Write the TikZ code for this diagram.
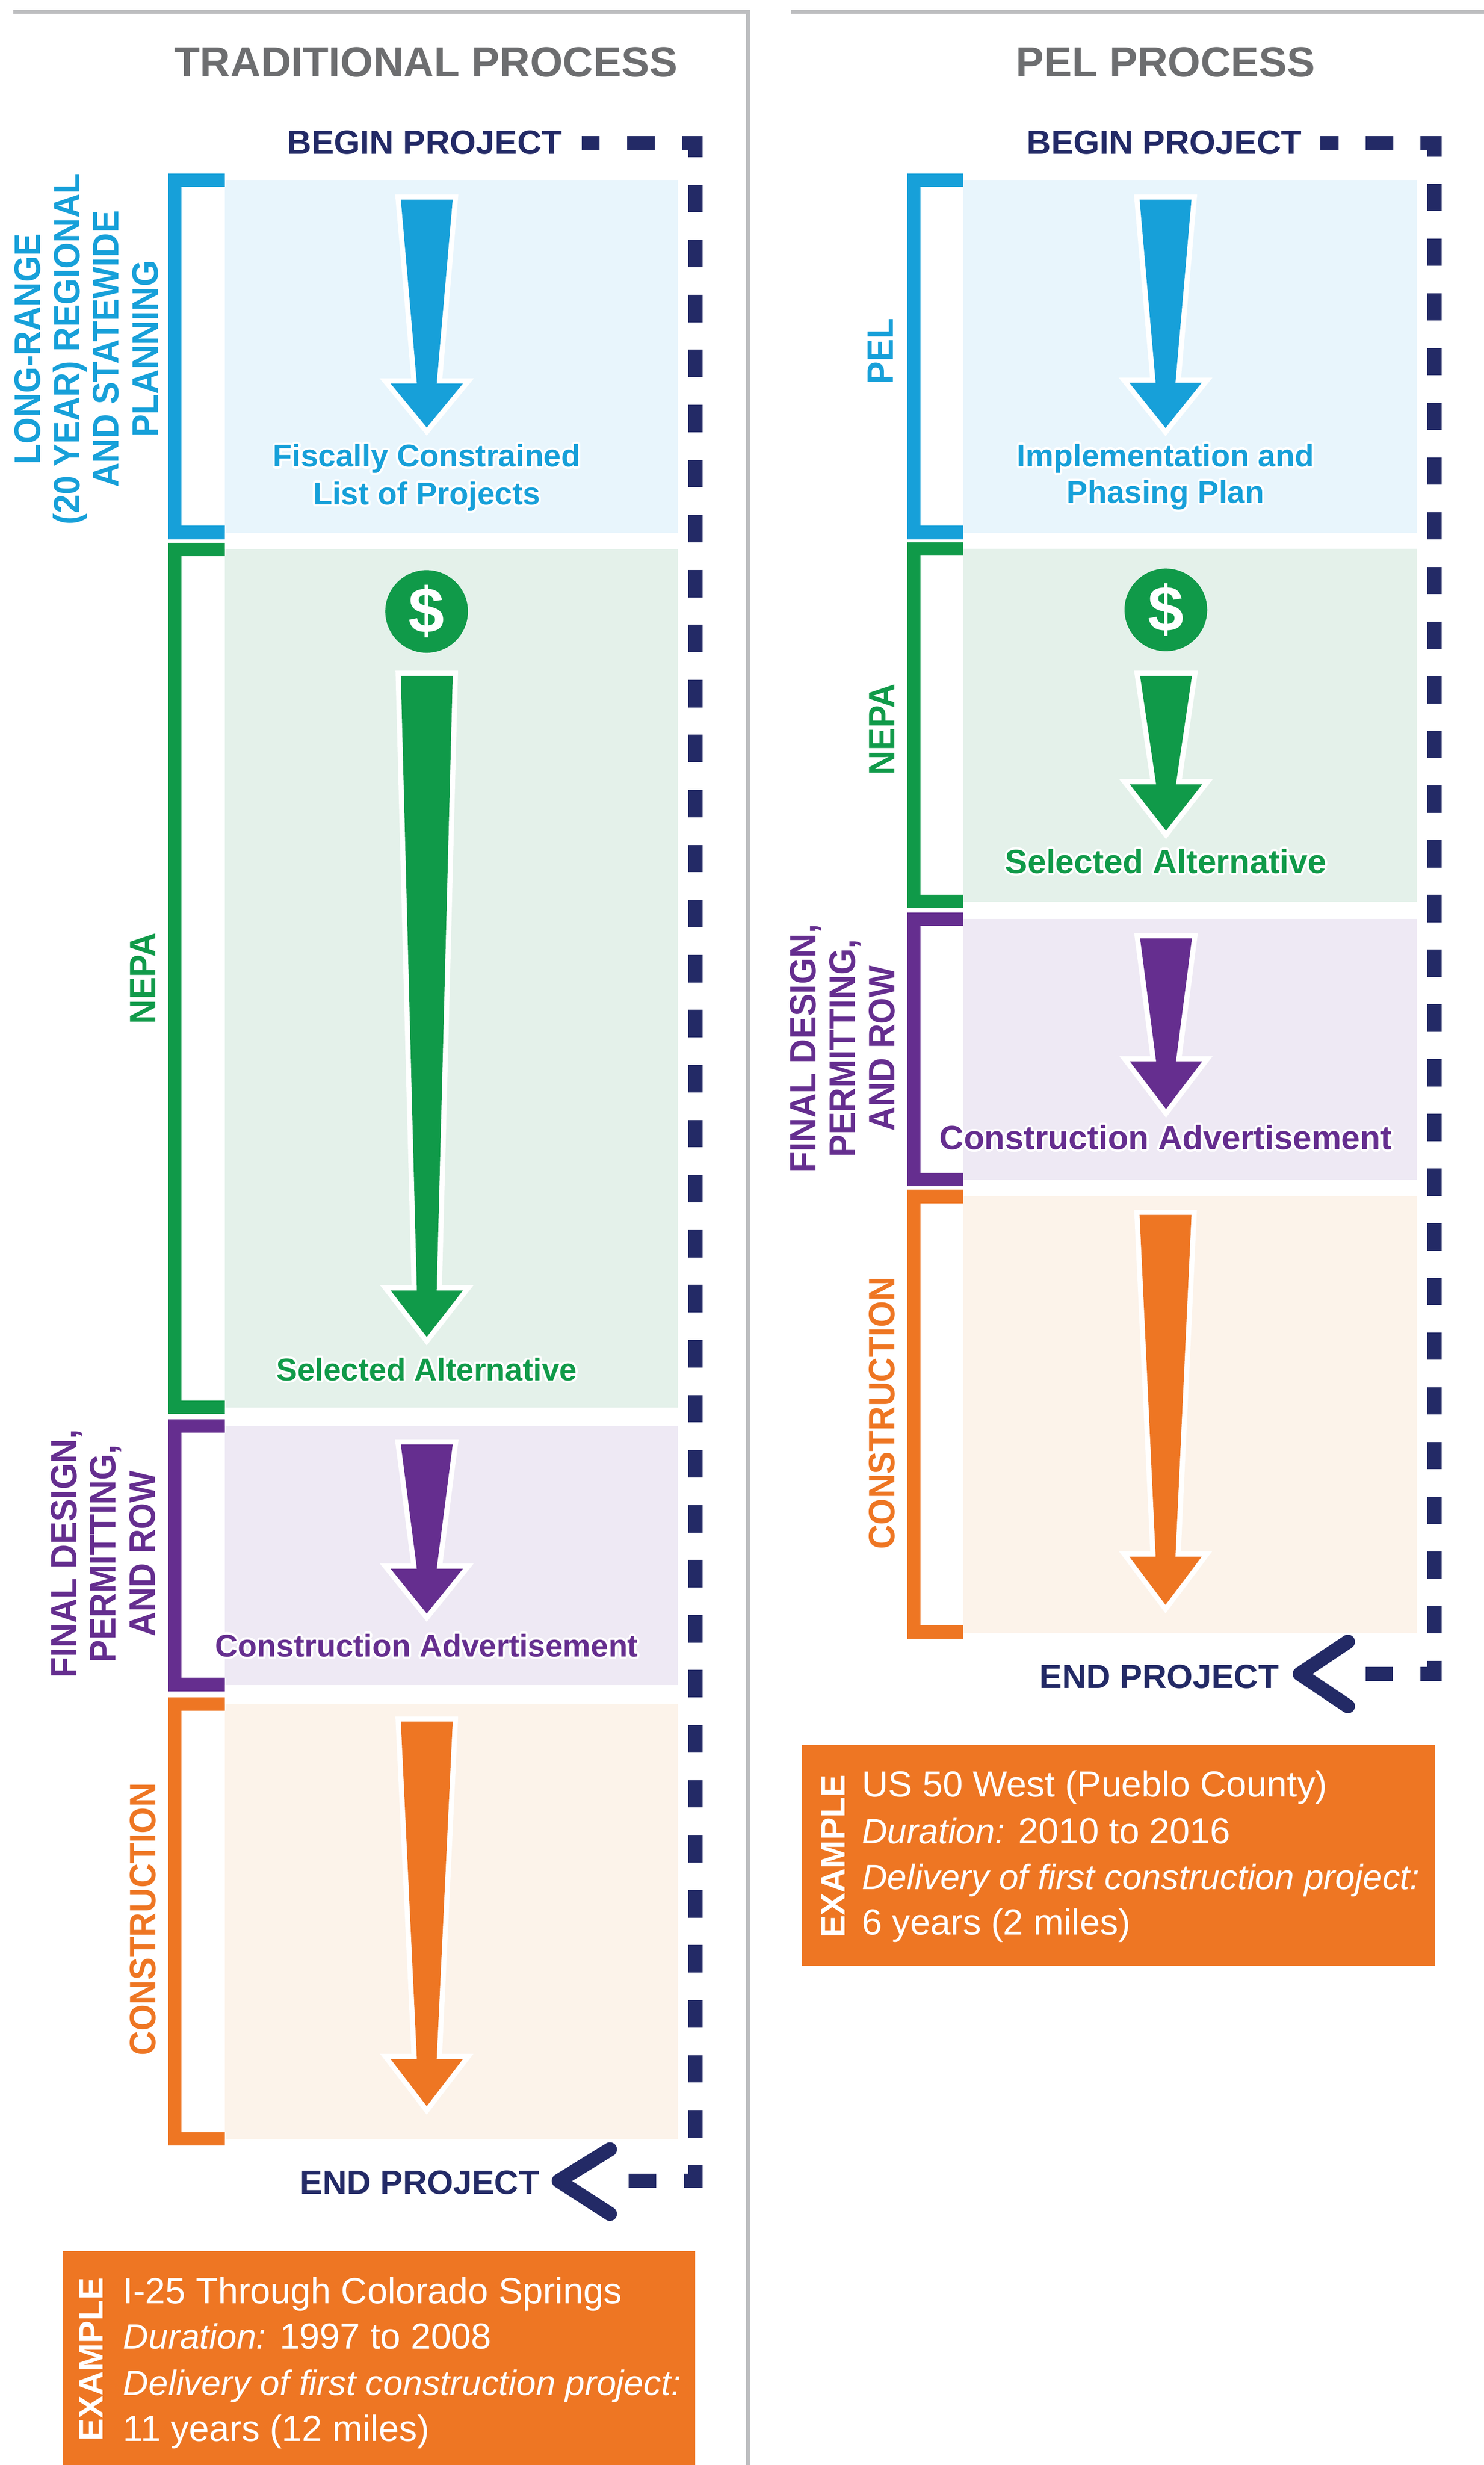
\documentclass[tikz,border=0pt]{standalone}
\usepackage{fontspec}
\setmainfont{Liberation Sans}
\newfontfamily\lblfont[FakeStretch=0.92]{Liberation Sans}
\usetikzlibrary{calc}
\definecolor{cblue}{HTML}{17A0D9}
\definecolor{lblue}{HTML}{E8F5FC}
\definecolor{cgreen}{HTML}{109A49}
\definecolor{lgreen}{HTML}{E4F1EA}
\definecolor{cpurple}{HTML}{652E8F}
\definecolor{lpurple}{HTML}{EEE9F4}
\definecolor{corange}{HTML}{EE7623}
\definecolor{lorange}{HTML}{FCF3EA}
\definecolor{navy}{HTML}{232A66}
\definecolor{titlegray}{HTML}{6D6E70}
\definecolor{framegray}{HTML}{BDBEC0}

% light colour, colour, bracket left x, outer top, outer bottom
\newcommand{\mystage}[5]{%
  \fill[#1] ({#3+36},{#4+4}) rectangle ({#3+324.3},{#5-4});
  \draw[#2, line width=4.25pt, line join=miter]
    ({#3+36},{#4+4.25}) -- ({#3+4.25},{#4+4.25}) -- ({#3+4.25},{#5-4.25}) -- ({#3+36},{#5-4.25});
}
% colour, centre x, top y, head y, tip y
\newcommand{\mytaper}[5]{%
  \path[fill=white, draw=white, line width=3.3pt, line join=miter]
    ({#2-16.5},#3) -- ({#2+16.5},#3) -- ({#2+6.3},#4) -- ({#2+23},#4) -- (#2,#5)
    -- ({#2-23},#4) -- ({#2-6.3},#4) -- cycle;
  \fill[#1]
    ({#2-16.5},#3) -- ({#2+16.5},#3) -- ({#2+6.3},#4) -- ({#2+23},#4) -- (#2,#5)
    -- ({#2-23},#4) -- ({#2-6.3},#4) -- cycle;
}
% name, style, x, y, text : text with a thin white outline
\newcommand{\glownode}[5]{%
  \foreach \ang in {0,30,...,330} {\node[#2, text=white] (#1g\ang) at ($(#3,#4)+(\ang:1.4)$) {#5};}
  \node[#2] (#1) at (#3,#4) {#5};
}

\tikzset{
  frame/.style={draw=framegray, line width=1.35pt},
  ptitle/.style={anchor=base, inner sep=0, text=titlegray, font=\bfseries\fontsize{13.4}{16}\selectfont},
  proj/.style={anchor=base east, inner sep=0, text=navy, font=\bfseries\fontsize{10.7}{12}\selectfont},
  boxtxt/.style={anchor=base, inner sep=0, font=\bfseries\fontsize{10}{12}\selectfont},
  boxtxtb/.style={anchor=base, inner sep=0, font=\bfseries\fontsize{10.7}{12}\selectfont},
  rot/.style={rotate=90, align=center, inner sep=0, font=\lblfont\bfseries\fontsize{11.7}{12.5}\selectfont},
  coin/.style={circle, fill=cgreen, minimum size=26.3pt, inner sep=0, text=white, font=\bfseries\fontsize{20.5}{24}\selectfont},
  exlabel/.style={rotate=90, inner sep=0, text=white, font=\bfseries\fontsize{10.75}{12}\selectfont},
  exline/.style={anchor=base west, inner sep=0, text=white, font=\fontsize{11.55}{13}\selectfont},
  dashL/.style={draw=navy, line width=4.5pt, dash pattern=on 8.75pt off 8.75pt, dash phase=3pt, line join=miter},
  dashR/.style={draw=navy, line width=4.5pt, dash pattern=on 8.7pt off 8.7pt, dash phase=2.95pt, line join=miter},
  chev/.style={draw=navy, line width=4.5pt, line cap=round, line join=round},
}
\newcommand{\ittxt}[1]{{\fontsize{11.2}{13}\selectfont\itshape #1}}

\begin{document}
\begin{tikzpicture}[x=0.5pt, y=-0.5pt]
\useasboundingbox (0,0) rectangle (944,1568.3);

% ---------- frames ----------
\draw[frame] (8.5,7.5) -- (476,7.5) -- (476,1572);
\draw[frame] (503,7.5) -- (948,7.5);

% ---------- titles ----------
\node[ptitle] (Ltitle) at (271,48.8) {TRADITIONAL PROCESS};
\node[ptitle] (Rtitle) at (741.5,48.8) {PEL PROCESS};

% ---------- LEFT: stages ----------
\mystage{lblue}{cblue}{107}{110.5}{343}
\mystage{lgreen}{cgreen}{107}{345.4}{899.6}
\mystage{lpurple}{cpurple}{107}{903}{1076}
\mystage{lorange}{corange}{107}{1080}{1365}

\mytaper{cblue}{271.5}{127}{244}{272}
\mytaper{cgreen}{271.5}{430}{821}{850.6}
\mytaper{cpurple}{271.5}{919}{998}{1026.6}
\mytaper{corange}{271.5}{1095.3}{1310}{1340}

\node[coin] (Lcoin) at (271.4,389) {\$};

\glownode{Lfisc1}{boxtxt, text=cblue}{271.5}{297}{Fiscally Constrained}
\glownode{Lfisc2}{boxtxt, text=cblue}{271.5}{321}{List of Projects}
\glownode{Lsel}{boxtxt, text=cgreen}{271.5}{878.4}{Selected Alternative}
\glownode{Ladv}{boxtxt, text=cpurple}{271.5}{1054}{Construction Advertisement}

\node[rot, text=cblue] (Llrp) at (55,222) {LONG-RANGE\\(20 YEAR) REGIONAL\\AND STATEWIDE\\PLANNING};
\node[rot, text=cgreen] (Lnepa) at (91,622.5) {NEPA};
\node[rot, text=cpurple] (Lfinal) at (65.6,988.5) {FINAL DESIGN,\\PERMITTING,\\AND ROW};
\node[rot, text=corange] (Lcons) at (91,1221) {CONSTRUCTION};

% ---------- LEFT: begin / end ----------
\node[proj] (Lbegin) at (358,98) {BEGIN PROJECT};
\node[proj] (Lend) at (343.5,1396) {END PROJECT};
\coordinate (Lds) at (370,91);
\coordinate (Ldc1) at (442.5,91);
\coordinate (Ldc2) at (442.5,1387.5);
\coordinate (Lde) at (389,1387.5);
\draw[dashL] (Lds) -- (Ldc1) -- (Ldc2) -- (Lde);
\coordinate (Lchu) at (388,1367.5);
\coordinate (Lcht) at (355.5,1387.5);
\coordinate (Lchd) at (388,1408.5);
\draw[chev] (Lchu) -- (Lcht) -- (Lchd);

% ---------- LEFT: example ----------
\fill[corange] (39.7,1432) rectangle (442.3,1572);
\node[exlabel] (Lexl) at (58,1501) {EXAMPLE};
\node[exline] (Lex1) at (78,1465.6) {I-25 Through Colorado Springs};
\node[exline] (Lex2) at (78,1494.5) {\ittxt{Duration:} 1997 to 2008};
\node[exline] (Lex3) at (78,1524) {\ittxt{Delivery of first construction project:}};
\node[exline] (Lex4) at (78,1553) {11 years (12 miles)};

% ---------- RIGHT: stages ----------
\mystage{lblue}{cblue}{577}{110.5}{343}
\mystage{lgreen}{cgreen}{577}{345}{577.7}
\mystage{lpurple}{cpurple}{577}{580.5}{754.7}
\mystage{lorange}{corange}{577}{757}{1042.7}

\mytaper{cblue}{741.5}{127}{243.5}{272.3}
\mytaper{cgreen}{741.8}{430}{499}{528.5}
\mytaper{cpurple}{741.8}{597}{675.3}{705.6}
\mytaper{corange}{741.5}{773}{990.4}{1021}

\node[coin] (Rcoin) at (741.7,388) {\$};

\glownode{Rimp1}{boxtxt, text=cblue}{741.5}{296.8}{Implementation and}
\glownode{Rimp2}{boxtxt, text=cblue}{741.5}{320}{Phasing Plan}
\glownode{Rsel}{boxtxtb, text=cgreen}{741.7}{555.6}{Selected Alternative}
\glownode{Radv}{boxtxtb, text=cpurple}{741.7}{731.3}{Construction Advertisement}

\node[rot, text=cblue] (Rpel) at (560,223.5) {PEL};
\node[rot, text=cgreen] (Rnepa) at (561,464) {NEPA};
\node[rot, text=cpurple] (Rfinal) at (536,667) {FINAL DESIGN,\\PERMITTING,\\AND ROW};
\node[rot, text=corange] (Rcons) at (561,899) {CONSTRUCTION};

% ---------- RIGHT: begin / end ----------
\node[proj] (Rbegin) at (828.5,98) {BEGIN PROJECT};
\node[proj] (Rend) at (814,1074) {END PROJECT};
\coordinate (Rds) at (840,91);
\coordinate (Rdc1) at (912.5,91);
\coordinate (Rdc2) at (912.5,1065);
\coordinate (Rde) at (860,1065);
\draw[dashR] (Rds) -- (Rdc1) -- (Rdc2) -- (Rde);
\coordinate (Rchu) at (857.5,1044.5);
\coordinate (Rcht) at (826.9,1065);
\coordinate (Rchd) at (857.5,1085.5);
\draw[chev] (Rchu) -- (Rcht) -- (Rchd);

% ---------- RIGHT: example ----------
\fill[corange] (510,1110) rectangle (913,1250.5);
\node[exlabel] (Rexl) at (530,1181) {EXAMPLE};
\node[exline] (Rex1) at (548,1143) {US 50 West (Pueblo County)};
\node[exline] (Rex2) at (548,1173) {\ittxt{Duration:} 2010 to 2016};
\node[exline] (Rex3) at (548,1202) {\ittxt{Delivery of first construction project:}};
\node[exline] (Rex4) at (548,1231) {6 years (2 miles)};
\end{tikzpicture}
\end{document}
